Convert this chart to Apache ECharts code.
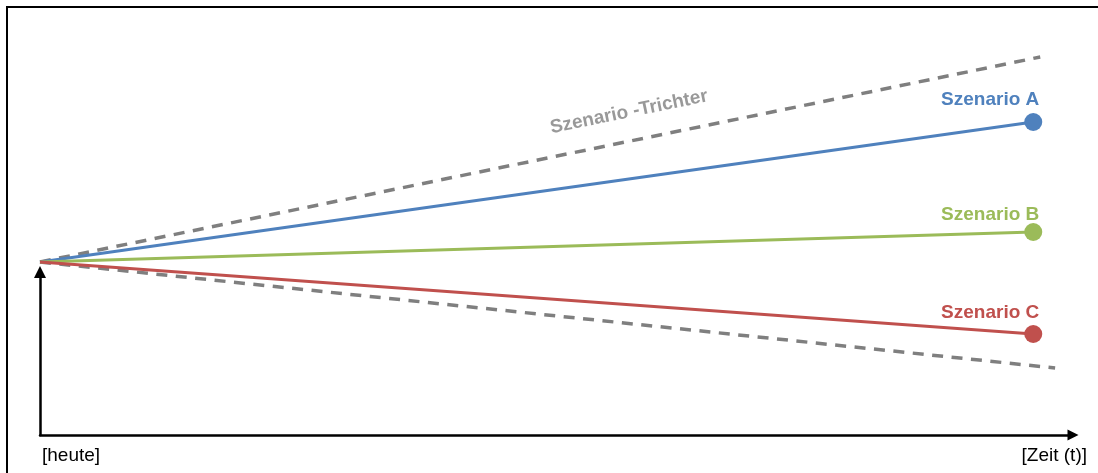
<!DOCTYPE html>
<html>
<head>
<meta charset="utf-8">
<script src="https://cdn.jsdelivr.net/npm/echarts@6/dist/echarts.min.js"></script>
<style>
  html, body { margin: 0; padding: 0; background: #fff; }
  #chart { width: 1098px; height: 473px; }
</style>
</head>
<body>
<div id="chart"></div>
<script>
// Time runs from "today" (0) to the planning horizon (100)
const timeSpan = [0, 100];

// Scenario development, relative to today's value
const scenarioNames = ['Szenario A', 'Szenario B', 'Szenario C'];
const scenarioStart = [0, 0, 0];
const scenarioEnd = [70, 15, -36];

// Outer bounds of the scenario funnel
const funnelUpper = [[0, 0], [100.7, 102.5]];
const funnelLower = [[0, 0], [102.2, -53]];
const funnelTitle = 'Szenario -Trichter';

// Axis captions
const axisLabelStart = '[heute]';
const axisLabelEnd = '[Zeit (t)]';

const scenarioColors = ['#4F81BD', '#9BBB59', '#C0504D'];
const funnelColor = '#7F7F7F';
const labelLift = [13.5, 8.5, 12];
const font = "'Liberation Sans', Arial, Helvetica, sans-serif";

const chart = echarts.init(document.getElementById('chart'), null, { renderer: 'canvas' });

const funnelLine = (data) => ({
  type: 'line',
  data: data,
  symbol: 'none',
  clip: false,
  silent: true,
  z: 1,
  lineStyle: { color: funnelColor, width: 3.5, type: [11, 8.5] }
});

const scenarioSeries = scenarioNames.map((name, i) => {
  const color = scenarioColors[i];
  return {
    type: 'line',
    name: name,
    clip: false,
    silent: true,
    z: 3,
    symbol: 'circle',
    symbolSize: 18,
    showSymbol: true,
    itemStyle: { color: color },
    lineStyle: { color: color, width: 3 },
    data: [
      { value: [timeSpan[0], scenarioStart[i]], symbol: 'none' },
      {
        value: [timeSpan[1], scenarioEnd[i]],
        label: {
          show: true,
          formatter: name,
          position: 'top',
          distance: 0,
          align: 'right',
          verticalAlign: 'middle',
          offset: [6, -labelLift[i]],
          color: color,
          fontSize: 19,
          fontWeight: 'bold',
          fontFamily: font
        }
      }
    ]
  };
});

chart.setOption({
  animation: false,
  backgroundColor: '#fff',
  grid: { left: 40, right: 25, top: 272, bottom: 38 },
  graphic: [{
    type: 'rect',
    silent: true,
    shape: { x: 7, y: 7, width: 1300, height: 700 },
    style: { fill: null, stroke: '#000', lineWidth: 2 }
  }],
  xAxis: {
    type: 'value',
    min: 0,
    max: 104,
    axisLine: {
      show: true,
      onZero: false,
      symbol: ['none', 'triangle'],
      symbolSize: [11, 11],
      lineStyle: { color: '#000', width: 2.5 }
    },
    axisTick: { show: false },
    splitLine: { show: false },
    axisLabel: {
      customValues: [timeSpan[0]],
      formatter: () => axisLabelStart,
      align: 'left',
      margin: 11,
      padding: [0, 0, 0, 2],
      color: '#000',
      fontSize: 19,
      fontFamily: font
    },
    name: axisLabelEnd,
    nameLocation: 'end',
    nameGap: 14,
    nameTextStyle: {
      align: 'right',
      verticalAlign: 'top',
      padding: [11, 0, 0, 0],
      color: '#000',
      fontSize: 19,
      fontFamily: font
    }
  },
  yAxis: {
    type: 'value',
    min: -86.5,
    max: -5,
    axisLine: {
      show: true,
      onZero: false,
      symbol: ['none', 'triangle'],
      symbolSize: [12, 12],
      lineStyle: { color: '#000', width: 2.5 }
    },
    axisTick: { show: false },
    splitLine: { show: false },
    axisLabel: { show: false }
  },
  series: [
    funnelLine(funnelUpper),
    funnelLine(funnelLower),
    ...scenarioSeries,
    {
      type: 'scatter',
      silent: true,
      clip: false,
      z: 4,
      data: [[59.3, 75]],
      symbolSize: 1,
      itemStyle: { color: 'rgba(0,0,0,0)' },
      label: {
        show: true,
        position: 'inside',
        formatter: funnelTitle,
        rotate: 11.6,
        color: funnelColor,
        fontSize: 19,
        fontWeight: 'bold',
        fontFamily: font
      }
    }
  ]
});
</script>
</body>
</html>
